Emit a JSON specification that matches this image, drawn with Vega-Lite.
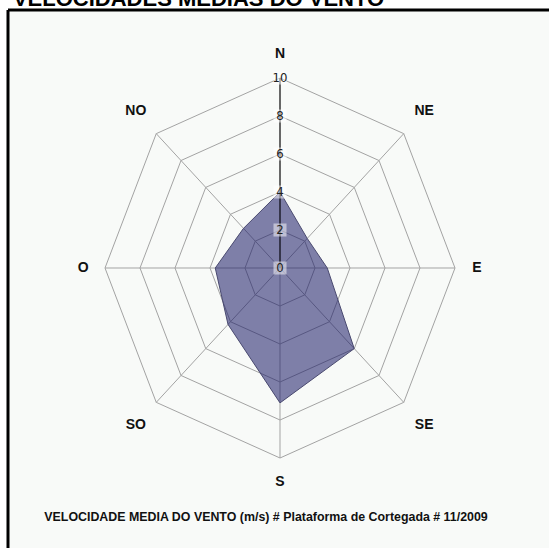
{
  "$schema": "https://vega.github.io/schema/vega-lite/v6.json",
  "width": 541,
  "height": 538,
  "autosize": {"type": "none"},
  "padding": {"left": 8, "top": 10, "right": 0, "bottom": 0},
  "background": "white",
  "config": {
    "view": {"fill": "#f8faf8", "stroke": "black", "strokeWidth": 3, "strokeDash": [541, 1079, 538, 0]}
  },
  "datasets": {
    "wind": [
      {"dir": "N", "angle": 0, "speed": 4.0},
      {"dir": "NE", "angle": 45, "speed": 2.2},
      {"dir": "E", "angle": 90, "speed": 2.7},
      {"dir": "SE", "angle": 135, "speed": 6.0},
      {"dir": "S", "angle": 180, "speed": 7.1},
      {"dir": "SO", "angle": 225, "speed": 4.2},
      {"dir": "O", "angle": 270, "speed": 3.7},
      {"dir": "NO", "angle": 315, "speed": 2.95}
    ],
    "grid": [
      {"r": 2, "a": 0}, {"r": 2, "a": 45}, {"r": 2, "a": 90}, {"r": 2, "a": 135}, {"r": 2, "a": 180}, {"r": 2, "a": 225}, {"r": 2, "a": 270}, {"r": 2, "a": 315},
      {"r": 4, "a": 0}, {"r": 4, "a": 45}, {"r": 4, "a": 90}, {"r": 4, "a": 135}, {"r": 4, "a": 180}, {"r": 4, "a": 225}, {"r": 4, "a": 270}, {"r": 4, "a": 315},
      {"r": 6, "a": 0}, {"r": 6, "a": 45}, {"r": 6, "a": 90}, {"r": 6, "a": 135}, {"r": 6, "a": 180}, {"r": 6, "a": 225}, {"r": 6, "a": 270}, {"r": 6, "a": 315},
      {"r": 8, "a": 0}, {"r": 8, "a": 45}, {"r": 8, "a": 90}, {"r": 8, "a": 135}, {"r": 8, "a": 180}, {"r": 8, "a": 225}, {"r": 8, "a": 270}, {"r": 8, "a": 315},
      {"r": 10, "a": 0}, {"r": 10, "a": 45}, {"r": 10, "a": 90}, {"r": 10, "a": 135}, {"r": 10, "a": 180}, {"r": 10, "a": 225}, {"r": 10, "a": 270}, {"r": 10, "a": 315}
    ],
    "ticks": [
      {"t": 0}, {"t": 2}, {"t": 4}, {"t": 6}, {"t": 8}, {"t": 10}
    ]
  },
  "layer": [
    {
      "data": {"name": "grid"},
      "transform": [
        {"calculate": "datum.r * sin(datum.a * PI / 180)", "as": "gx"},
        {"calculate": "datum.r * cos(datum.a * PI / 180)", "as": "gy"}
      ],
      "mark": {"type": "line", "interpolate": "linear-closed", "stroke": "#a3a3a3", "strokeWidth": 1},
      "encoding": {
        "x": {"field": "gx", "type": "quantitative", "axis": null, "scale": {"domain": [-10, 10], "range": [97, 447], "nice": false, "zero": false}},
        "y": {"field": "gy", "type": "quantitative", "axis": null, "scale": {"domain": [-10, 10], "range": [448, 68], "nice": false, "zero": false}},
        "detail": {"field": "r", "type": "nominal"},
        "order": {"field": "a", "type": "quantitative"}
      }
    },
    {
      "data": {"name": "wind"},
      "transform": [
        {"calculate": "10 * sin(datum.angle * PI / 180)", "as": "sx"},
        {"calculate": "10 * cos(datum.angle * PI / 180)", "as": "sy"}
      ],
      "mark": {"type": "rule", "stroke": "#a3a3a3", "strokeWidth": 1},
      "encoding": {
        "x": {"field": "sx", "type": "quantitative"},
        "y": {"field": "sy", "type": "quantitative"},
        "x2": {"datum": 0},
        "y2": {"datum": 0}
      }
    },
    {
      "data": {"name": "wind"},
      "transform": [
        {"calculate": "datum.speed * sin(datum.angle * PI / 180)", "as": "px"},
        {"calculate": "datum.speed * cos(datum.angle * PI / 180)", "as": "py"}
      ],
      "mark": {"type": "line", "interpolate": "linear-closed", "fill": "#1a1a66", "fillOpacity": 0.55, "stroke": "#4a4a70", "strokeWidth": 1},
      "encoding": {
        "x": {"field": "px", "type": "quantitative"},
        "y": {"field": "py", "type": "quantitative"},
        "order": {"field": "angle", "type": "quantitative"}
      }
    },
    {
      "data": {"name": "ticks"},
      "mark": {"type": "rule", "stroke": "black", "strokeWidth": 1},
      "encoding": {
        "x": {"datum": 0, "type": "quantitative"},
        "y": {"aggregate": "min", "field": "t", "type": "quantitative"},
        "y2": {"aggregate": "max", "field": "t"}
      }
    },
    {
      "data": {"name": "ticks"},
      "mark": {"type": "point", "shape": "square", "filled": true, "color": "white", "opacity": 0.5, "size": 170},
      "encoding": {
        "x": {"datum": 0, "type": "quantitative"},
        "y": {"field": "t", "type": "quantitative"}
      }
    },
    {
      "data": {"name": "ticks"},
      "mark": {"type": "text", "font": "Liberation Sans Narrow, DejaVu Sans Condensed, sans-serif", "fontSize": 13, "color": "#222222", "align": "center", "baseline": "middle"},
      "encoding": {
        "x": {"datum": 0, "type": "quantitative"},
        "y": {"field": "t", "type": "quantitative"},
        "text": {"field": "t", "type": "quantitative"}
      }
    },
    {
      "data": {"name": "wind"},
      "transform": [
        {"calculate": "datum.angle % 90 == 0 ? 11.25 : 11.65", "as": "lr"},
        {"calculate": "datum.lr * sin(datum.angle * PI / 180)", "as": "lx"},
        {"calculate": "datum.lr * cos(datum.angle * PI / 180)", "as": "ly"}
      ],
      "mark": {"type": "text", "font": "Liberation Sans", "fontSize": 14, "fontWeight": "bold", "color": "#111111", "align": "center", "baseline": "middle"},
      "encoding": {
        "x": {"field": "lx", "type": "quantitative"},
        "y": {"field": "ly", "type": "quantitative"},
        "text": {"field": "dir", "type": "nominal"}
      }
    },
    {
      "data": {"values": [{"caption": "VELOCIDADE MEDIA DO VENTO (m/s) # Plataforma de Cortegada # 11/2009"}]},
      "mark": {"type": "text", "font": "Liberation Sans", "fontSize": 12.4, "fontWeight": "bold", "color": "#111111", "align": "center", "baseline": "middle"},
      "encoding": {
        "x": {"datum": -0.8, "type": "quantitative"},
        "y": {"datum": -13.1, "type": "quantitative"},
        "text": {"field": "caption", "type": "nominal"}
      }
    },
    {
      "data": {"values": [{"heading": "VELOCIDADES MEDIAS DO VENTO"}]},
      "mark": {"type": "text", "font": "Liberation Sans", "fontSize": 22, "fontWeight": "bold", "color": "black", "align": "left", "baseline": "alphabetic"},
      "encoding": {
        "x": {"datum": -15.26, "type": "quantitative"},
        "y": {"datum": 13.79, "type": "quantitative"},
        "text": {"field": "heading", "type": "nominal"}
      }
    }
  ]
}
